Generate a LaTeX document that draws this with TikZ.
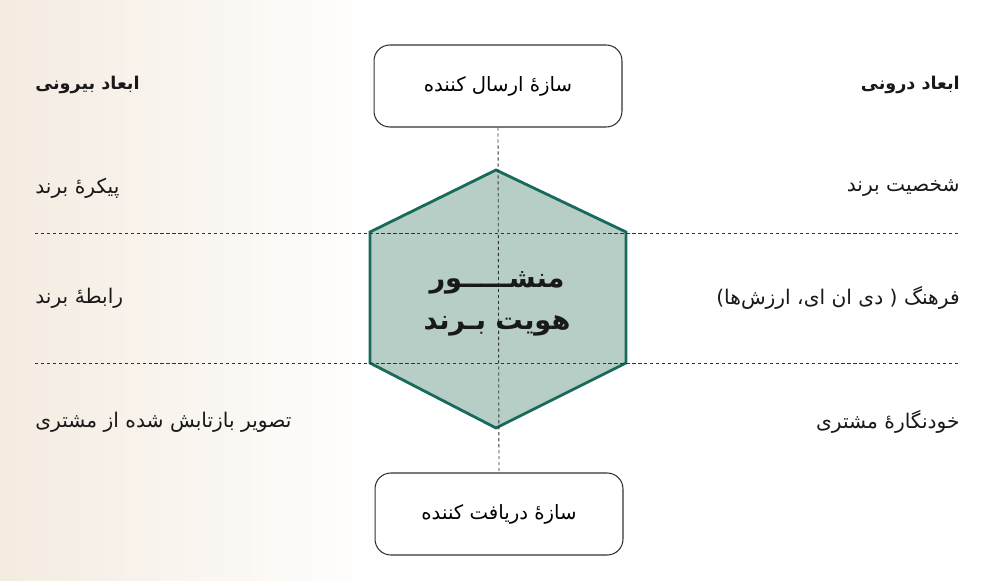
\documentclass[tikz,border=0pt]{standalone}
\usepackage{fontspec}
\newfontfamily\arabicfont[Script=Arabic]{DejaVu Sans}
\TeXXeTstate=1
\usetikzlibrary{positioning}

\tikzset{
    endbox/.style={draw=black!80, line width=0.6pt, rounded corners=9pt, fill=white,
        minimum width=4.96cm, minimum height=1.64cm, inner sep=0pt,
        font=\arabicfont\fontsize{11.2}{14}\selectfont},
    colhead/.style={inner sep=0pt, font=\arabicfont\bfseries\fontsize{10}{12}\selectfont},
    colitem/.style={inner sep=0pt, font=\arabicfont\fontsize{11.5}{14}\selectfont},
    guide/.style={black!80, line width=0.5pt, dash pattern=on 1.8pt off 1.6pt}
}

\begin{document}
\begin{tikzpicture}[
        x=0.02cm, y=-0.02cm % one unit is one pixel of the reference
        ]

        % 1. Define colors to match the image
        \definecolor{mybeige}{RGB}{244,235,224}
        \definecolor{hexfill}{RGB}{183,206,198}
        \definecolor{hexline}{RGB}{24,106,93}
        \colorlet{mytext}{black!90}

        % 2. Background: page size and soft beige band on the left
        \useasboundingbox (0,0) rectangle (1000,581);
        \fill[white] (0,0) rectangle (1000,581);
        \shade[left color=mybeige, right color=white] (0,0) rectangle (380,581);

        % 3. Key coordinates of the hexagon
        \coordinate (H_top) at (496,170);
        \coordinate (H_ul) at (370,232);
        \coordinate (H_ur) at (626,232);
        \coordinate (H_ll) at (370,363);
        \coordinate (H_lr) at (626,363);
        \coordinate (H_bot) at (496,428);

        % Ends of the dashed guide lines
        \coordinate (G1_w) at (35,233);
        \coordinate (G1_e) at (960,233);
        \coordinate (G2_w) at (35,363);
        \coordinate (G2_e) at (960,363);

        % 4. Sender and receiver boxes
        \node[endbox] (sender) at (498,86) {\beginR سازهٔ ارسال کننده\endR};
        \node[endbox] (receiver) at (499,514) {\beginR سازهٔ دریافت کننده\endR};

        % Hexagon (back)
        \draw[fill=hexfill, draw=hexline, line width=1.6pt, line join=miter]
            (H_top) -- (H_ur) -- (H_lr) -- (H_bot) -- (H_ll) -- (H_ul) -- cycle;

        % Dashed guide lines over the hexagon
        \draw[guide] (G1_w) -- (G1_e);
        \draw[guide] (G2_w) -- (G2_e);
        \draw[guide] (sender.south) -- (receiver.north);

        % Hexagon label
        \node[font=\arabicfont\bfseries\fontsize{15.5}{24}\selectfont, align=center, text=mytext]
            (prism) at (497,304) {\beginR منشـــــور\endR\\ \beginR هویت بـرند\endR};

        % 5. Outer dimensions (left column)
        \node[colhead, anchor=west, text=mytext] (outer) at (35,85) {\beginR ابعاد بیرونی\endR};
        \node[colitem, anchor=west, text=mytext] (physique) at (35,188) {\beginR پیکرهٔ برند\endR};
        \node[colitem, anchor=west, text=mytext] (relation) at (35,298) {\beginR رابطهٔ برند\endR};
        \node[colitem, anchor=west, text=mytext] (reflection) at (35,422) {\beginR تصویر بازتابش شده از مشتری\endR};

        % Inner dimensions (right column)
        \node[colhead, anchor=east, text=mytext] (inner) at (960,85) {\beginR ابعاد درونی\endR};
        \node[colitem, anchor=east, text=mytext] (personality) at (960,188) {\beginR شخصیت برند\endR};
        \node[colitem, anchor=east, text=mytext] (culture) at (960,298) {\beginR فرهنگ ( دی ان ای، ارزش‌ها)\endR};
        \node[colitem, anchor=east, text=mytext] (selfimage) at (960,422) {\beginR خودنگارهٔ مشتری\endR};
    \end{tikzpicture}
\end{document}
